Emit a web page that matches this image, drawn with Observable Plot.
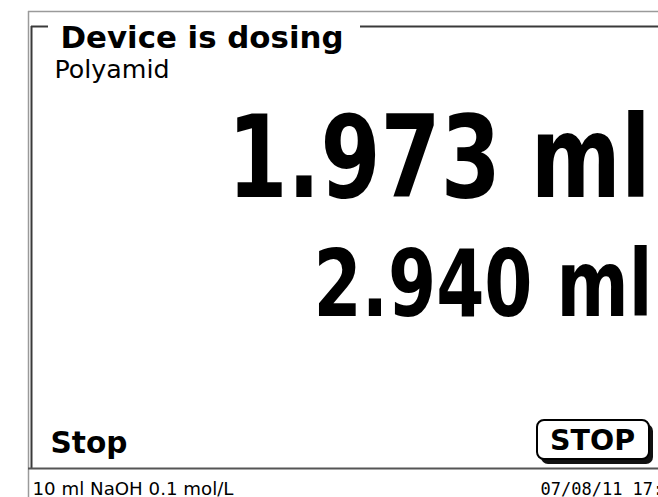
<!DOCTYPE html>
<html><head><meta charset="utf-8">
<script src="https://cdn.jsdelivr.net/npm/d3@7"></script>
<script src="https://cdn.jsdelivr.net/npm/@observablehq/plot@0.6"></script>
<style>html,body{margin:0;padding:0;background:#fff;overflow:hidden;}</style>
</head><body><div id="chart"></div>
<script>
// ---- content ----
const titleText = ["Device is dosing"];
const methodName = ["Polyamid"];
const doseValues = [1.973, 2.940];
const doseUnit = "ml";
const softkeyLabel = ["Stop"];
const buttonLabel = ["STOP"];
const statusLeft = ["10 ml NaOH 0.1 mol/L"];
const statusRight = ["07/08/11 17:05"];

// ---- layout (screen pixels) ----
const W = 658, H = 497;
const doseRows = doseValues.map((v, i) => ({label: v.toFixed(3) + " " + doseUnit, i}));
const doseX = [650, 652], doseY = [196, 315], doseSize = [114, 92], doseWidth = [423, 339];

const font = "DejaVu Sans";
const plot = Plot.plot({
  width: W, height: H,
  margin: 0,
  x: {domain: [0, W], range: [0, W], axis: null},
  y: {domain: [0, H], range: [0, H], axis: null},
  style: {background: "#fff", overflow: "hidden", fontFamily: font},
  marks: [
    // outer screen frame
    Plot.ruleY([11], {x1: 28, x2: W, stroke: "#9a9a9a", strokeWidth: 1.5}),
    Plot.ruleX([28], {y1: 11, y2: H, stroke: "#9a9a9a", strokeWidth: 1.5}),
    // group box bracket
    Plot.ruleX([31], {y1: 26, y2: 468, stroke: "#3a3a3a", strokeWidth: 2}),
    Plot.ruleY([26], {x1: 31, x2: 48, stroke: "#3a3a3a", strokeWidth: 2}),
    Plot.ruleY([26], {x1: 360, x2: W, stroke: "#3a3a3a", strokeWidth: 2}),
    Plot.ruleY([468], {x1: 28, x2: W, stroke: "#555", strokeWidth: 2}),
    // title and method
    Plot.text(titleText, {x: 60, y: 47, text: d => d, textAnchor: "start", lineAnchor: "bottom", fontSize: 30, fontWeight: "bold", fill: "#000"}),
    Plot.text(methodName, {x: 54, y: 77, text: d => d, textAnchor: "start", lineAnchor: "bottom", fontSize: 25, fill: "#000"}),
    // dose values
    Plot.text(doseRows, {x: d => doseX[d.i], y: d => doseY[d.i], text: "label", fontSize: d => doseSize[d.i], textAnchor: "end", lineAnchor: "bottom", fontWeight: "bold", fill: "#000"}),
    // softkey
    Plot.text(softkeyLabel, {x: 50, y: 452, text: d => d, textAnchor: "start", lineAnchor: "bottom", fontSize: 30, fontWeight: "bold", fill: "#000"}),
    // STOP button (shadow + face)
    Plot.rect(buttonLabel, {x1: 541, x2: 653, y1: 424, y2: 464, fill: "#111", rx: 7}),
    Plot.rect(buttonLabel, {x1: 537, x2: 649, y1: 420, y2: 459, fill: "#fff", stroke: "#000", strokeWidth: 2, rx: 7}),
    Plot.text(buttonLabel, {x: 592, y: 449, text: d => d, textAnchor: "middle", lineAnchor: "bottom", fontSize: 28, fontWeight: "bold", fill: "#000"}),
    // status bar
    Plot.text(statusLeft, {x: 32, y: 494, text: d => d, textAnchor: "start", lineAnchor: "bottom", fontSize: 18, fill: "#000"}),
    Plot.text(statusRight, {x: 540, y: 494, text: d => d, textAnchor: "start", lineAnchor: "bottom", fontSize: 17, fontFamily: "DejaVu Sans Mono", fill: "#000"})
  ]
});
document.getElementById("chart").appendChild(plot);

// fit text widths to the device's narrower font
const fitWidths = new Map([[titleText[0], 283], [methodName[0], 115], [softkeyLabel[0], 77], [buttonLabel[0], 85], [statusLeft[0], 201]]);
doseRows.forEach(d => fitWidths.set(d.label, doseWidth[d.i]));
d3.select(plot).selectAll("text").each(function() {
  const w = fitWidths.get(this.textContent);
  if (w) { this.setAttribute("textLength", w); this.setAttribute("lengthAdjust", "spacingAndGlyphs"); }
});
</script></body></html>
